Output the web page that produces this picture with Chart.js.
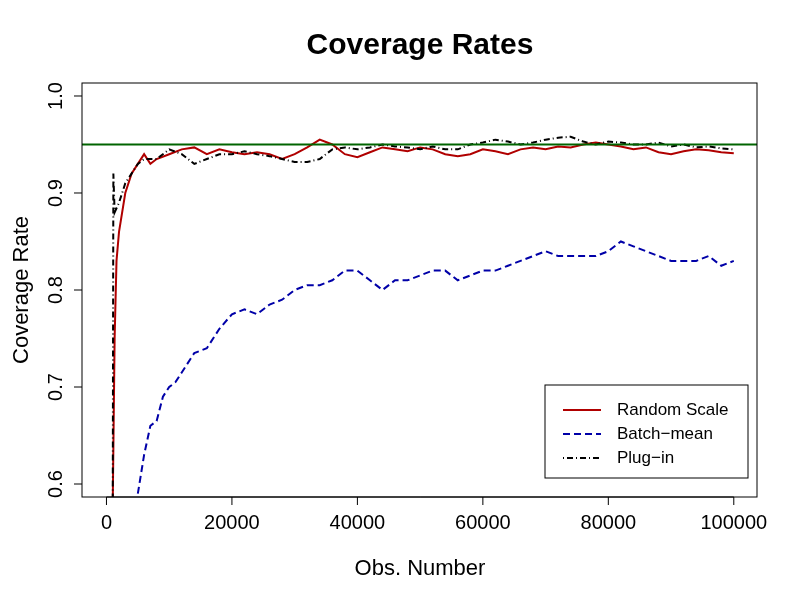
<!DOCTYPE html><html><head><script src="https://cdn.jsdelivr.net/npm/chart.js@4"></script>
<style>body{margin:0;background:#fff}#w{width:800px;height:600px}</style></head><body><div id="w"><canvas id="c"></canvas></div>
<script>
const rsX=[1000,1300,1600,2000,3000,4000,5000,6000,7000,8000,10000,12000,14000,16000,18000,20000,22000,24000,26000,28000,30000,32000,34000,36000,38000,40000,42000,44000,46000,48000,50000,52000,54000,56000,58000,60000,62000,64000,66000,68000,70000,72000,74000,76000,78000,80000,82000,84000,86000,88000,90000,92000,94000,96000,98000,100000];
const rsY=[0.58,0.75,0.83,0.86,0.90,0.92,0.93,0.94,0.93,0.935,0.94,0.945,0.947,0.94,0.945,0.942,0.94,0.942,0.94,0.935,0.94,0.947,0.955,0.95,0.94,0.937,0.942,0.947,0.945,0.943,0.947,0.945,0.94,0.938,0.94,0.945,0.943,0.94,0.945,0.947,0.945,0.948,0.947,0.95,0.952,0.95,0.948,0.945,0.947,0.942,0.94,0.943,0.945,0.944,0.942,0.941];
const bmX=[5000,6000,7000,8000,9000,10000,11000,12000,14000,16000,18000,20000,22000,24000,26000,28000,30000,32000,34000,36000,38000,40000,42000,44000,46000,48000,50000,52000,54000,56000,58000,60000,62000,64000,66000,68000,70000,72000,74000,76000,78000,80000,82000,84000,86000,88000,90000,92000,94000,96000,98000,100000];
const bmY=[0.59,0.63,0.66,0.665,0.69,0.70,0.705,0.715,0.735,0.74,0.76,0.775,0.78,0.775,0.785,0.79,0.80,0.805,0.805,0.81,0.82,0.82,0.81,0.80,0.81,0.81,0.815,0.82,0.82,0.81,0.815,0.82,0.82,0.825,0.83,0.835,0.84,0.835,0.835,0.835,0.835,0.84,0.85,0.845,0.84,0.835,0.83,0.83,0.83,0.835,0.825,0.83];
const piX=[1000,1100,1300,2000,3000,4000,5000,6000,8000,10000,12000,14000,16000,18000,20000,22000,24000,26000,28000,30000,32000,34000,36000,38000,40000,42000,44000,46000,48000,50000,52000,54000,56000,58000,60000,62000,64000,66000,68000,70000,72000,74000,76000,78000,80000,82000,84000,86000,88000,90000,92000,94000,96000,98000,100000];
const piY=[0.58,0.92,0.88,0.89,0.91,0.92,0.93,0.935,0.935,0.945,0.94,0.93,0.935,0.94,0.94,0.943,0.94,0.938,0.935,0.932,0.932,0.935,0.945,0.947,0.945,0.947,0.95,0.948,0.947,0.945,0.948,0.945,0.945,0.95,0.952,0.955,0.953,0.95,0.952,0.955,0.957,0.958,0.953,0.95,0.953,0.952,0.95,0.95,0.952,0.948,0.95,0.947,0.948,0.946,0.945];
const xTicks=[0,20000,40000,60000,80000,100000], xTickLabels=["0","20000","40000","60000","80000","100000"];
const yTicks=[0.6,0.7,0.8,0.9,1.0], yTickLabels=["0.6","0.7","0.8","0.9","1.0"];
const target=0.95;
const pts=(a,b)=>a.map((x,i)=>({x,y:b[i]}));
const F='"Liberation Sans", Arial, sans-serif';
const deco={id:'deco',afterDraw(ch){const c=ch.ctx,a=ch.chartArea,sx=ch.scales.x,sy=ch.scales.y;c.save();
c.strokeStyle='#000';c.lineWidth=1;c.strokeRect(a.left,a.top,a.right-a.left,a.bottom-a.top);
c.fillStyle='#000';c.font='20px '+F;c.textAlign='center';c.textBaseline='top';
c.beginPath();c.moveTo(sx.getPixelForValue(0),a.bottom);c.lineTo(sx.getPixelForValue(100000),a.bottom);
xTicks.forEach(v=>{const p=sx.getPixelForValue(v);c.moveTo(p,a.bottom);c.lineTo(p,a.bottom+8);});c.stroke();
xTicks.forEach((v,i)=>c.fillText(xTickLabels[i],sx.getPixelForValue(v),513));
c.beginPath();yTicks.forEach(v=>{const p=sy.getPixelForValue(v);c.moveTo(a.left,p);c.lineTo(a.left-8,p);});c.stroke();
yTicks.forEach((v,i)=>{c.save();c.translate(62,sy.getPixelForValue(v));c.rotate(-Math.PI/2);c.textBaseline='alphabetic';c.fillText(yTickLabels[i],0,0);c.restore();});
c.font='22px '+F;c.textBaseline='alphabetic';c.fillText('Obs. Number',420,575);
c.save();c.translate(28,290);c.rotate(-Math.PI/2);c.fillText('Coverage Rate',0,0);c.restore();
c.font='bold 30px '+F;c.fillText('Coverage Rates',420,54);
c.fillStyle='#fff';c.fillRect(545,385,203,93);c.strokeRect(545,385,203,93);
const L=[['Random Scale','#b00000',[]],['Batch\u2212mean','#0000a8',[7,4]],['Plug\u2212in','#000',[1,3,6,3]]];
c.font='17px '+F;c.textAlign='left';c.textBaseline='middle';
L.forEach((l,i)=>{const y=410+i*24;c.strokeStyle=l[1];c.lineWidth=2;c.setLineDash(l[2]);c.beginPath();c.moveTo(563,y);c.lineTo(601,y);c.stroke();c.setLineDash([]);c.fillStyle='#000';c.fillText(l[0],617,y);});
c.restore();}};
new Chart(document.getElementById('c'),{type:'scatter',data:{datasets:[
{data:pts([-3900,103700],[target,target]),borderColor:'#006400',borderWidth:2,showLine:true,pointRadius:0},
{data:pts(bmX,bmY),borderColor:'#0000a8',borderWidth:2,borderDash:[7,4],showLine:true,pointRadius:0},
{data:pts(piX,piY),borderColor:'#000',borderWidth:2,borderDash:[1,3,6,3],showLine:true,pointRadius:0},
{data:pts(rsX,rsY),borderColor:'#b00000',borderWidth:2,showLine:true,pointRadius:0}]},
options:{responsive:true,maintainAspectRatio:false,animation:false,layout:{padding:{left:82,right:43,top:83,bottom:103}},
plugins:{legend:{display:false},tooltip:{enabled:false}},
scales:{x:{type:'linear',min:-3900,max:103700,display:false},y:{min:0.5866,max:1.0134,display:false}}},plugins:[deco]});
</script></body></html>
